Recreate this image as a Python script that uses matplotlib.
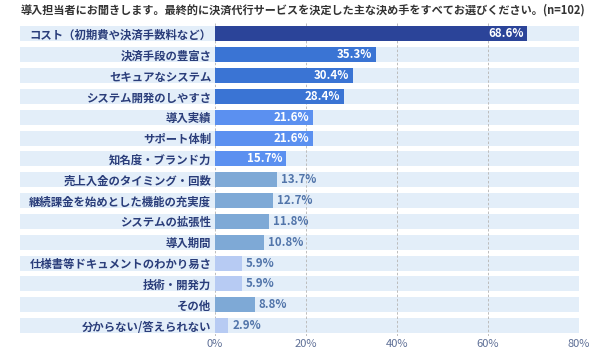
import matplotlib.pyplot as plt
from matplotlib.patches import Rectangle

plt.rcParams['font.family'] = ['Noto Sans CJK JP', 'DejaVu Sans']

title = "導入担当者にお聞きします。最終的に決済代行サービスを決定した主な決め手をすべてお選びください。(n=102)"
categories = [
    "コスト（初期費や決済手数料など）",
    "決済手段の豊富さ",
    "セキュアなシステム",
    "システム開発のしやすさ",
    "導入実績",
    "サポート体制",
    "知名度・ブランド力",
    "売上入金のタイミング・回数",
    "継続課金を始めとした機能の充実度",
    "システムの拡張性",
    "導入期間",
    "仕様書等ドキュメントのわかり易さ",
    "技術・開発力",
    "その他",
    "分からない/答えられない",
]
values = [68.6, 35.3, 30.4, 28.4, 21.6, 21.6, 15.7, 13.7, 12.7, 11.8, 10.8, 5.9, 5.9, 8.8, 2.9]
colors = ["#2b4499", "#3a74d4", "#3a74d4", "#3a74d4", "#5b90f0", "#5b90f0", "#5b90f0",
          "#7ea9d6", "#7ea9d6", "#7ea9d6", "#7ea9d6", "#b7cbf3", "#b7cbf3", "#7ea9d6", "#b7cbf3"]
inside = [True] * 7 + [False] * 8
xticks = [0, 20, 40, 60, 80]

fig = plt.figure(figsize=(6, 3.5), dpi=100)
ax = fig.add_axes([0.358, 0.04, 0.607, 0.893])

n = len(categories)
ypos = list(range(n))
bh = 0.72

# light background bands spanning label area
trans = ax.get_yaxis_transform()
for y in ypos:
    ax.add_patch(Rectangle((-0.535, y - bh / 2), 1.535, bh, transform=trans,
                           facecolor="#e3eef9", edgecolor="none", clip_on=False, zorder=0))

for x in xticks:
    ax.axvline(x, color="#bcbcbc", linestyle=(0, (2.5, 2)), linewidth=0.7, zorder=1)

ax.barh(ypos, values, height=bh, color=colors, zorder=2)

for y, v, ins in zip(ypos, values, inside):
    if ins:
        ax.text(v - 0.8, y, f"{v}%", ha="right", va="center", color="white",
                fontsize=8.3, fontweight="bold", zorder=3)
    else:
        ax.text(v + 0.9, y, f"{v}%", ha="left", va="center", color="#5275aa",
                fontsize=8.3, fontweight="bold", zorder=3)

ax.set_xlim(0, 80)
ax.set_ylim(n - 0.5, -0.5)
ax.set_xticks(xticks)
ax.set_xticklabels([f"{x}%" for x in xticks], color="#5e6f96", fontsize=8)
ax.set_yticks(ypos)
ax.set_yticklabels(categories, fontsize=8.2, fontweight="bold", color="#2a3d7a")
ax.tick_params(length=0, pad=2.5)
ax.tick_params(axis="x", pad=2)
for s in ax.spines.values():
    s.set_visible(False)

fig.text(0.035, 0.97, title, fontsize=8, fontweight="bold", color="#333333", va="center", ha="left")

fig.savefig("out.png", dpi=100)
